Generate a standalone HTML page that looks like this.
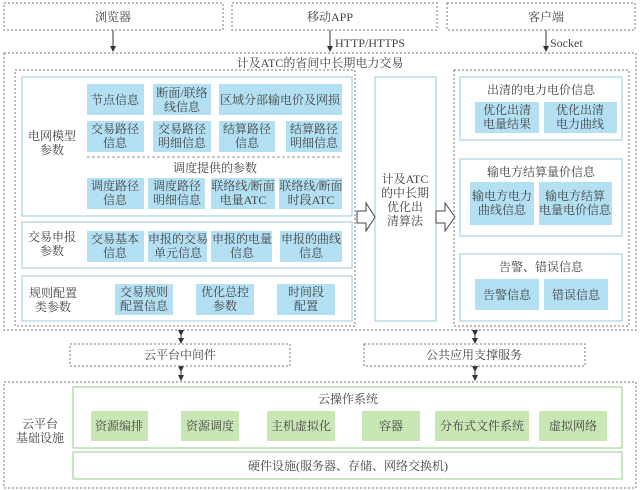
<!DOCTYPE html>
<html><head><meta charset="utf-8"><style>
html,body{margin:0;padding:0;background:#fff;}
svg{display:block;}
text{font-family:"Liberation Serif","Noto Serif CJK SC",serif;font-size:12px;fill:#444;text-anchor:middle;}
.d{fill:none;stroke:#777;stroke-width:1;stroke-dasharray:2,2;}
.p{fill:#fff;stroke:#a9d3e2;stroke-width:1.2;}
.g{fill:#fff;stroke:#a8d49a;stroke-width:1.2;}
.b{fill:#b3e0f2;}
.gb{fill:#c9e6b5;}
</style></head><body>
<svg width="640" height="490" viewBox="0 0 640 490" xmlns="http://www.w3.org/2000/svg">
<defs><marker id="ah" markerWidth="6" markerHeight="6" refX="3" refY="3" orient="auto"><path d="M0,0 L6,3 L0,6 z" fill="#333"/></marker></defs>
<!-- top -->
<rect class="d" x="4" y="3" width="219" height="27"/><text x="113" y="21">浏览器</text>
<rect class="d" x="232" y="3" width="205" height="27"/><text x="330" y="21">移动APP</text>
<rect class="d" x="447" y="3" width="188" height="27"/><text x="546" y="21">客户端</text>
<line x1="113" y1="30" x2="113" y2="49" stroke="#333" marker-end="url(#ah)"/>
<line x1="330" y1="30" x2="330" y2="49" stroke="#333" marker-end="url(#ah)"/>
<line x1="546" y1="30" x2="546" y2="49" stroke="#333" marker-end="url(#ah)"/>
<text x="335" y="47" style="text-anchor:start">HTTP/HTTPS</text>
<text x="550" y="47" style="text-anchor:start">Socket</text>
<!-- outer -->
<rect class="d" x="4" y="53" width="632" height="277"/>
<text x="320" y="67">计及ATC的省间中长期电力交易</text>
<rect class="d" x="15" y="70" width="340" height="256"/>
<rect class="p" x="22" y="77" width="330" height="139"/>
<text x="52" y="140">电网模型</text><text x="52" y="154">参数</text>
<rect class="b" x="87" y="84" width="57" height="31"/><text x="115" y="104">节点信息</text>
<rect class="b" x="153" y="84" width="58" height="31"/><text x="182" y="97">断面/联络</text><text x="182" y="111">线信息</text>
<rect class="b" x="219" y="84" width="123" height="31"/><text x="280" y="104">区域分部输电价及网损</text>
<rect class="b" x="87" y="121" width="57" height="31"/><text x="115" y="133">交易路径</text><text x="115" y="147">信息</text>
<rect class="b" x="153" y="121" width="58" height="31"/><text x="182" y="133">交易路径</text><text x="182" y="147">明细信息</text>
<rect class="b" x="219" y="121" width="56" height="31"/><text x="247" y="133">结算路径</text><text x="247" y="147">信息</text>
<rect class="b" x="286" y="121" width="56" height="31"/><text x="314" y="133">结算路径</text><text x="314" y="147">明细信息</text>
<line x1="87" y1="157" x2="342" y2="157" stroke="#999" stroke-dasharray="3,2"/>
<text x="215" y="172">调度提供的参数</text>
<rect class="b" x="87" y="178" width="57" height="31"/><text x="115" y="190">调度路径</text><text x="115" y="204">信息</text>
<rect class="b" x="148" y="178" width="57" height="31"/><text x="177" y="190">调度路径</text><text x="177" y="204">明细信息</text>
<rect class="b" x="211" y="178" width="64" height="31"/><text x="243" y="190">联络线/断面</text><text x="243" y="204">电量ATC</text>
<rect class="b" x="279" y="178" width="63" height="31"/><text x="311" y="190">联络线/断面</text><text x="311" y="204">时段ATC</text>
<rect class="p" x="22" y="222" width="330" height="46"/>
<text x="52" y="241">交易申报</text><text x="52" y="255">参数</text>
<rect class="b" x="87" y="231" width="57" height="31"/><text x="115" y="243">交易基本</text><text x="115" y="257">信息</text>
<rect class="b" x="148" y="231" width="59" height="31"/><text x="178" y="243">申报的交易</text><text x="178" y="257">单元信息</text>
<rect class="b" x="211" y="231" width="61" height="31"/><text x="242" y="243">申报的电量</text><text x="242" y="257">信息</text>
<rect class="b" x="280" y="231" width="62" height="31"/><text x="311" y="243">申报的曲线</text><text x="311" y="257">信息</text>
<rect class="p" x="22" y="276" width="330" height="45"/>
<text x="53" y="297">规则配置</text><text x="53" y="311">类参数</text>
<rect class="b" x="115" y="284" width="58" height="31"/><text x="144" y="296">交易规则</text><text x="144" y="310">配置信息</text>
<rect class="b" x="196" y="284" width="58" height="31"/><text x="225" y="296">优化总控</text><text x="225" y="310">参数</text>
<rect class="b" x="277" y="284" width="58" height="31"/><text x="306" y="296">时间段</text><text x="306" y="310">配置</text>
<!-- middle -->
<rect class="p" x="375" y="77" width="61" height="244"/>
<text x="405" y="183">计及ATC</text><text x="405" y="197">的中长期</text><text x="405" y="211">优化出</text><text x="405" y="225">清算法</text>
<path d="M357,211 H366 V203 L375,217 L366,231 V223 H357 Z" fill="#fff" stroke="#444"/>
<path d="M436,211 H445 V203 L455,217 L445,231 V223 H436 Z" fill="#fff" stroke="#444"/>
<!-- right -->
<rect class="d" x="454" y="70" width="175" height="256"/>
<rect class="p" x="460" y="77" width="162" height="63"/>
<text x="541" y="94">出清的电力电价信息</text>
<rect class="b" x="475" y="102" width="64" height="31"/><text x="507" y="114">优化出清</text><text x="507" y="128">电量结果</text>
<rect class="b" x="544" y="102" width="73" height="31"/><text x="580" y="114">优化出清</text><text x="580" y="128">电力曲线</text>
<rect class="p" x="460" y="159" width="162" height="77"/>
<text x="541" y="176">输电方结算量价信息</text>
<rect class="b" x="470" y="182" width="64" height="43"/><text x="502" y="200">输电方电力</text><text x="502" y="214">曲线信息</text>
<rect class="b" x="539" y="182" width="73" height="43"/><text x="575" y="200">输电方结算</text><text x="575" y="214">电量电价信息</text>
<rect class="p" x="460" y="254" width="162" height="67"/>
<text x="541" y="271">告警、错误信息</text>
<rect class="b" x="475" y="279" width="64" height="31"/><text x="507" y="299">告警信息</text>
<rect class="b" x="544" y="279" width="64" height="31"/><text x="576" y="299">错误信息</text>
<!-- middleware -->
<g stroke="#333" fill="none"><line x1="181" y1="333" x2="181" y2="341" marker-start="url(#ah)" marker-end="url(#ah)"/>
<line x1="181" y1="369" x2="181" y2="378" marker-start="url(#ah)" marker-end="url(#ah)"/>
<line x1="475" y1="333" x2="475" y2="341" marker-start="url(#ah)" marker-end="url(#ah)"/>
<line x1="475" y1="369" x2="475" y2="378" marker-start="url(#ah)" marker-end="url(#ah)"/></g>
<rect class="d" x="70" y="344" width="220" height="22"/><text x="180" y="359">云平台中间件</text>
<rect class="d" x="364" y="344" width="221" height="22"/><text x="474" y="359">公共应用支撑服务</text>
<!-- bottom -->
<rect class="d" x="4" y="382" width="632" height="106"/>
<text x="40" y="428">云平台</text><text x="40" y="442">基础设施</text>
<rect class="g" x="73" y="387" width="549" height="61"/>
<text x="348" y="403">云操作系统</text>
<rect class="gb" x="91" y="411" width="57" height="30"/><text x="119" y="430">资源编排</text>
<rect class="gb" x="181" y="411" width="58" height="30"/><text x="210" y="430">资源调度</text>
<rect class="gb" x="267" y="411" width="68" height="30"/><text x="301" y="430">主机虚拟化</text>
<rect class="gb" x="362" y="411" width="58" height="30"/><text x="391" y="430">容器</text>
<rect class="gb" x="435" y="411" width="94" height="30"/><text x="482" y="430">分布式文件系统</text>
<rect class="gb" x="539" y="411" width="68" height="30"/><text x="573" y="430">虚拟网络</text>
<rect class="g" x="73" y="452" width="549" height="27"/>
<text x="348" y="470">硬件设施(服务器、存储、网络交换机)</text>
</svg>
</body></html>
